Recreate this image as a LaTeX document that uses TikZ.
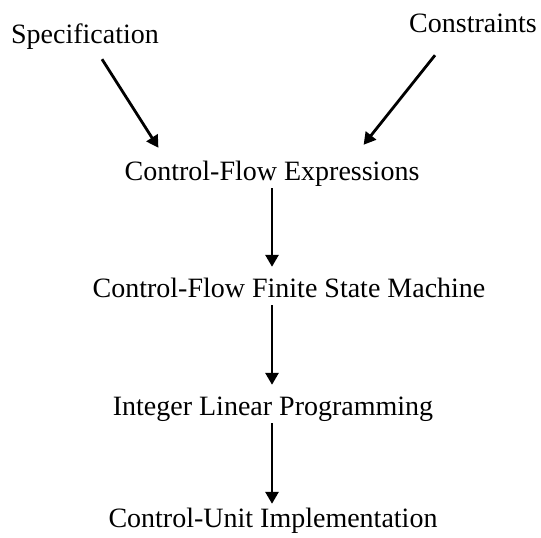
\documentclass[tikz,border=0pt]{standalone}
\usepackage{fontspec}
\setmainfont{Liberation Serif}
\usetikzlibrary{arrows.meta}
\tikzset{
  step label/.style={anchor=base, inner sep=2pt, text height=19pt, text depth=6pt, font=\fontsize{28}{32}\selectfont},
  flow/.style={line width=2.8pt, -{Triangle[length=12pt,width=13pt]}}
}
\begin{document}
\begin{tikzpicture}[x=1pt,y=1pt]
                \useasboundingbox (0,0) rectangle (541,-538);

                \node[step label] (spec) at (85, -43) {Specification};
                \node[step label] (cons) at (473, -32) {Constraints};
                \node[step label] (cfe) at (272, -180) {Control-Flow Expressions};
                \node[step label] (fsm) at (289, -297) {Control-Flow Finite State Machine};
                \node[step label] (ilp) at (273, -415) {Integer Linear Programming};
                \node[step label] (cui) at (273, -527) {Control-Unit Implementation};

                \draw[flow] ([xshift=17pt,yshift=-8pt]spec.south) -- ([xshift=36pt,yshift=11pt]cfe.north west);
                \draw[flow] ([xshift=-38pt,yshift=-15pt]cons.south) -- ([xshift=-58pt,yshift=14pt]cfe.north east);

                \draw[flow, shorten >=9pt] (cfe.south) -- (cfe.south |- fsm.north);
                \draw[flow, shorten >=9pt] (cfe.south |- fsm.south) -- (cfe.south |- ilp.north);
                \draw[flow, shorten >=2pt] (cfe.south |- ilp.south) -- (cfe.south |- cui.north);

            \end{tikzpicture}
\end{document}
